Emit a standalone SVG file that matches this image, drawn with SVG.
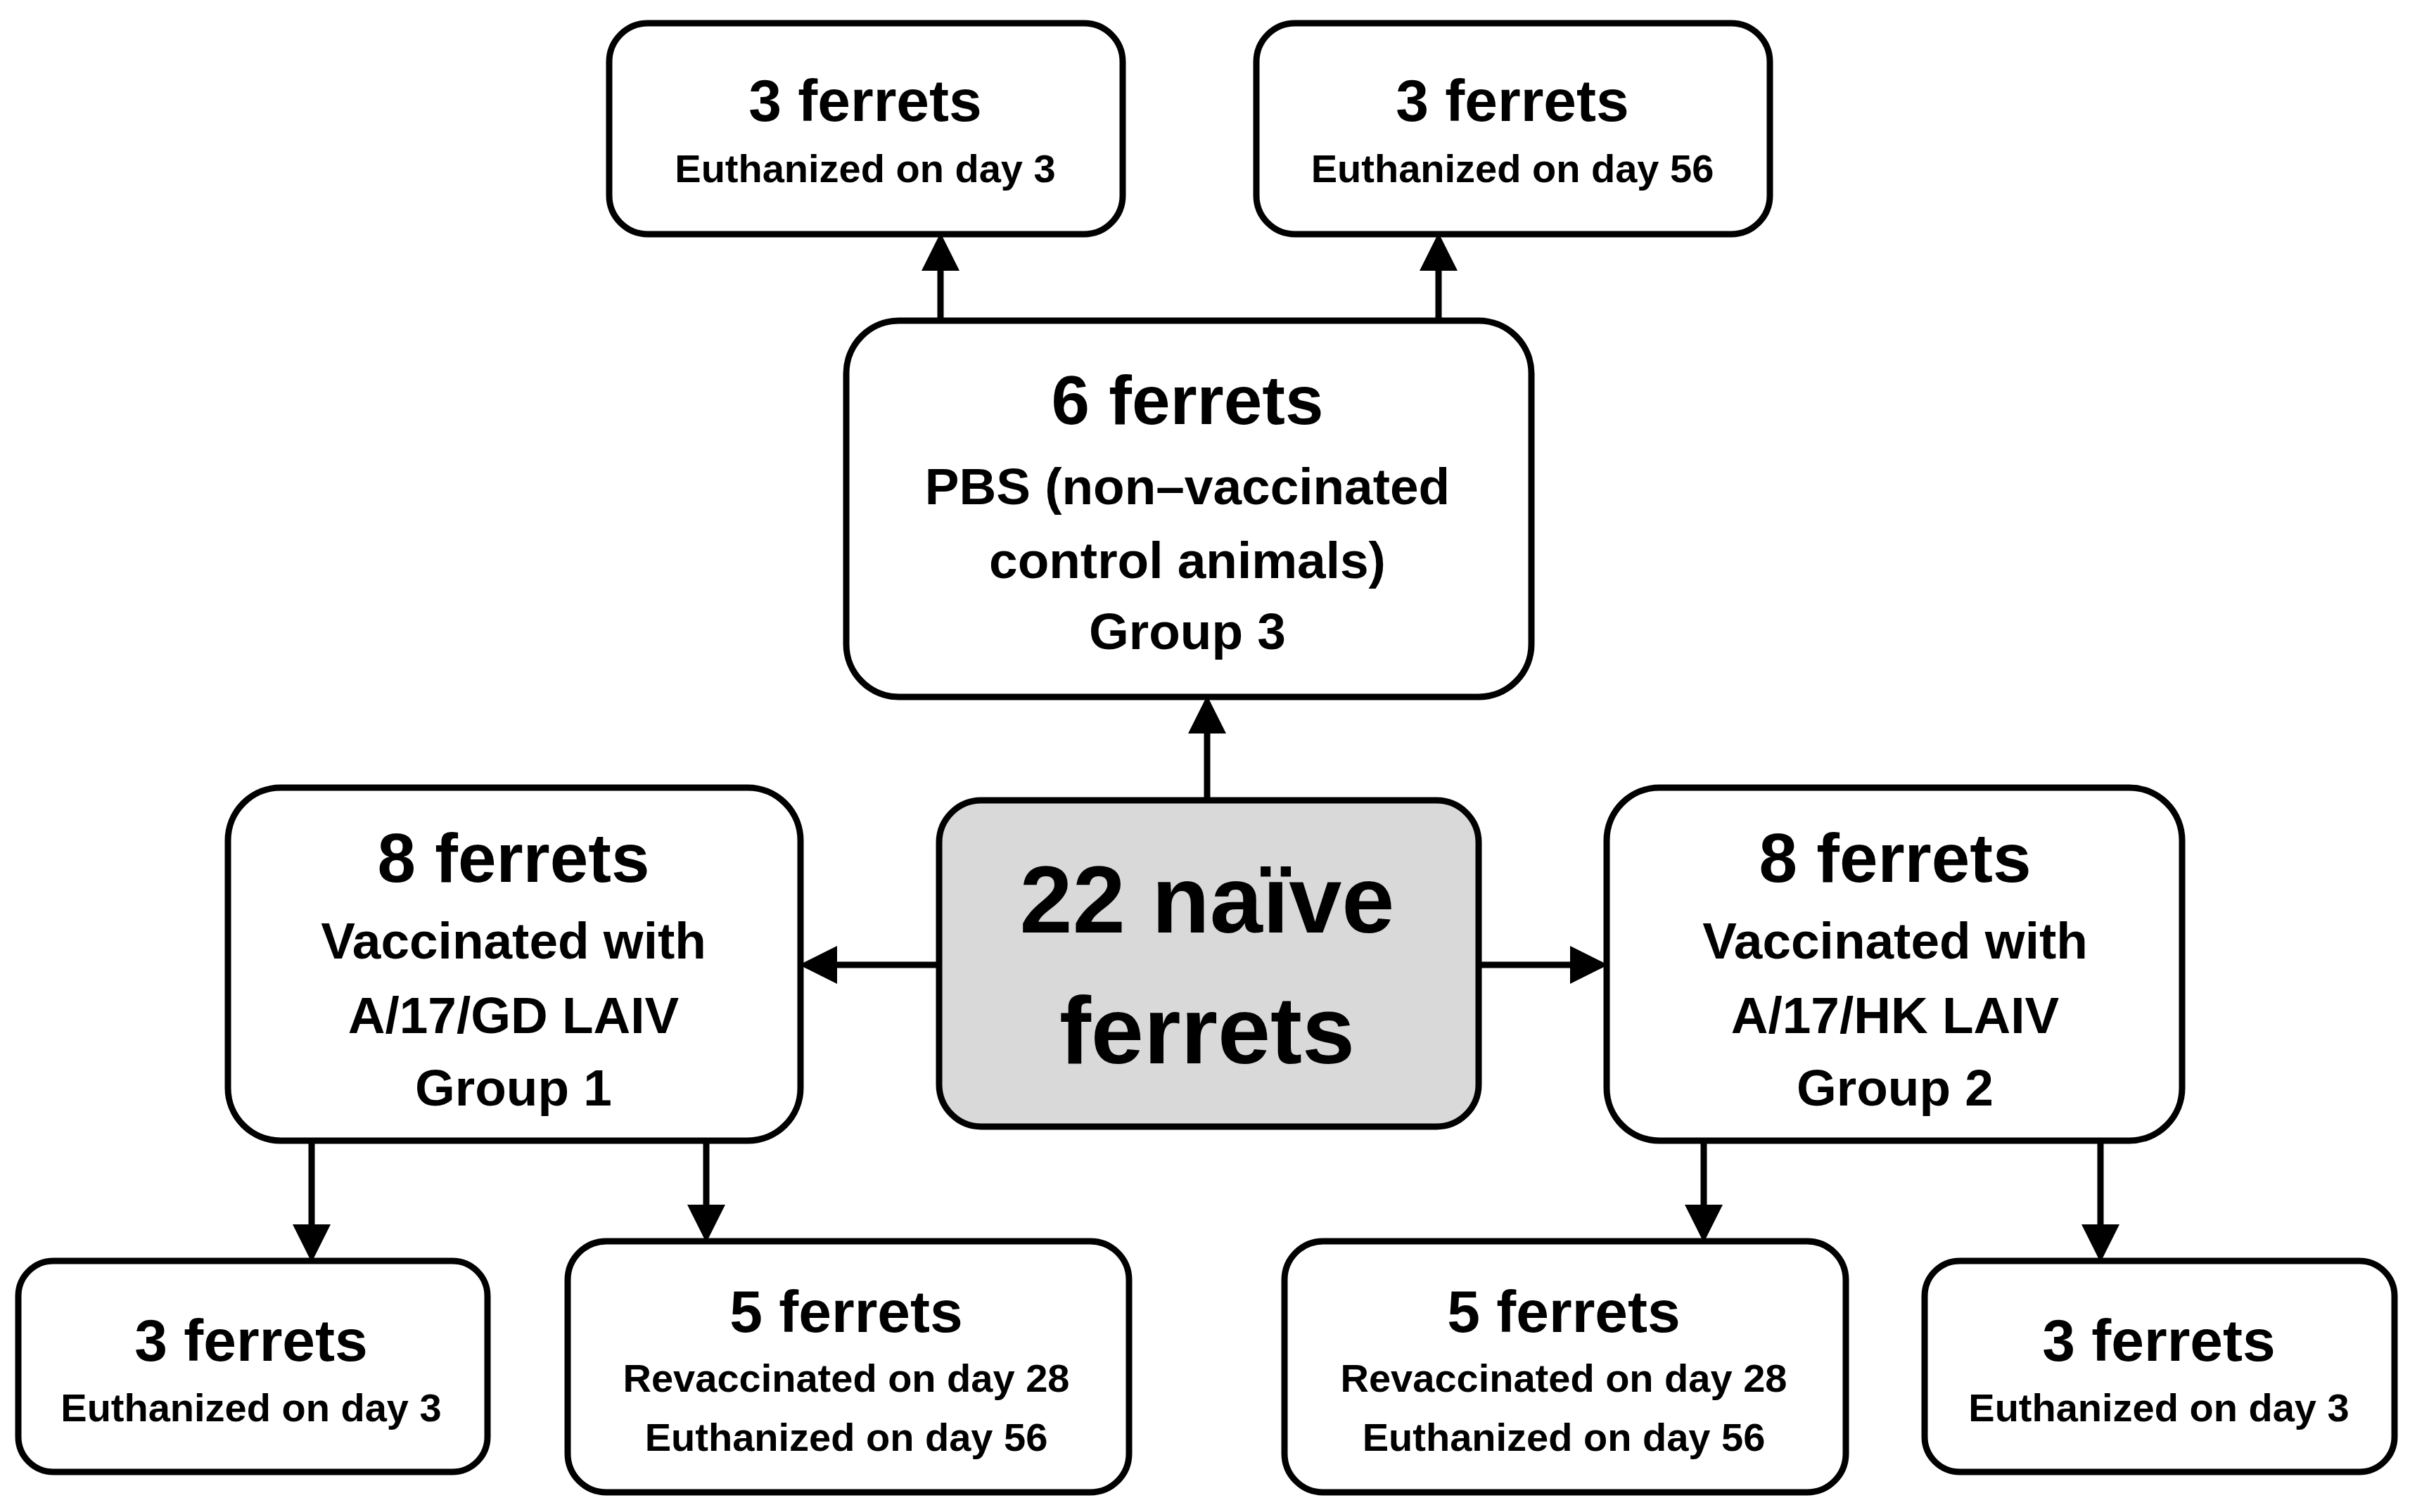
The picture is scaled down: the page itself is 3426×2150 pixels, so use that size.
<svg xmlns="http://www.w3.org/2000/svg" width="3426" height="2150" viewBox="0 0 3426 2150">
<style>
.b{fill:#fff;stroke:#000;stroke-width:9}
.c{fill:#d9d9d9;stroke:#000;stroke-width:9}
text{font-family:"Liberation Sans",Arial,sans-serif;font-weight:bold;text-anchor:middle;fill:#000}
.t{font-size:84px}.s{font-size:56px}.m{font-size:73px}.h{font-size:98px}.x{font-size:135px}
.a{stroke:#000;stroke-width:9;fill:none;marker-end:url(#ar)}
</style>
<defs><marker id="ar" markerWidth="6" markerHeight="6" refX="5" refY="3" orient="auto" markerUnits="strokeWidth"><path d="M0,0L6,3L0,6z" fill="#000"/></marker></defs>
<g id="connectors">
<line class="a" x1="1337" y1="456" x2="1337" y2="340"/>
<line class="a" x1="2045" y1="456" x2="2045" y2="340"/>
<line class="a" x1="1716" y1="1138" x2="1716" y2="998"/>
<line class="a" x1="1335" y1="1372" x2="1145" y2="1372"/>
<line class="a" x1="2102" y1="1372" x2="2277" y2="1372"/>
<line class="a" x1="443" y1="1622" x2="443" y2="1786"/>
<line class="a" x1="1004" y1="1622" x2="1004" y2="1758"/>
<line class="a" x1="2422" y1="1622" x2="2422" y2="1758"/>
<line class="a" x1="2986" y1="1622" x2="2986" y2="1786"/>
</g>
<g id="top1"><rect class="b" x="866" y="33" width="730" height="300" rx="55"/><text class="t" x="1230" y="172">3 ferrets</text><text class="s" x="1230" y="259">Euthanized on day 3</text></g>
<g id="top2"><rect class="b" x="1786" y="33" width="730" height="300" rx="55"/><text class="t" x="2150" y="172">3 ferrets</text><text class="s" x="2150" y="259">Euthanized on day 56</text></g>
<g id="pbs"><rect class="b" x="1203" y="456" width="974" height="535" rx="75"/><text class="h" x="1688" y="603">6 ferrets</text><text class="m" x="1688" y="717">PBS (non–vaccinated</text><text class="m" x="1688" y="822">control animals)</text><text class="m" x="1688" y="923">Group 3</text></g>
<g id="center"><rect class="c" x="1335" y="1138" width="767" height="464" rx="60"/><text class="x" x="1716" y="1326">22 naïve</text><text class="x" x="1716" y="1512">ferrets</text></g>
<g id="g1"><rect class="b" x="324" y="1120" width="814" height="502" rx="75"/><text class="h" x="730" y="1254">8 ferrets</text><text class="m" x="730" y="1363">Vaccinated with</text><text class="m" x="730" y="1469">A/17/GD LAIV</text><text class="m" x="730" y="1572">Group 1</text></g>
<g id="g2"><rect class="b" x="2284" y="1120" width="818" height="502" rx="75"/><text class="h" x="2694" y="1254">8 ferrets</text><text class="m" x="2694" y="1363">Vaccinated with</text><text class="m" x="2694" y="1469">A/17/HK LAIV</text><text class="m" x="2694" y="1572">Group 2</text></g>
<g id="b1"><rect class="b" x="26" y="1793" width="667" height="300" rx="50"/><text class="t" x="357" y="1935">3 ferrets</text><text class="s" x="357" y="2021">Euthanized on day 3</text></g>
<g id="b2"><rect class="b" x="807" y="1765" width="798" height="357" rx="55"/><text class="t" x="1203" y="1894">5 ferrets</text><text class="s" x="1203" y="1979">Revaccinated on day 28</text><text class="s" x="1203" y="2063">Euthanized on day 56</text></g>
<g id="b3"><rect class="b" x="1826" y="1765" width="798" height="357" rx="55"/><text class="t" x="2223" y="1894">5 ferrets</text><text class="s" x="2223" y="1979">Revaccinated on day 28</text><text class="s" x="2223" y="2063">Euthanized on day 56</text></g>
<g id="b4"><rect class="b" x="2736" y="1793" width="668" height="300" rx="50"/><text class="t" x="3069" y="1935">3 ferrets</text><text class="s" x="3069" y="2021">Euthanized on day 3</text></g>
</svg>
